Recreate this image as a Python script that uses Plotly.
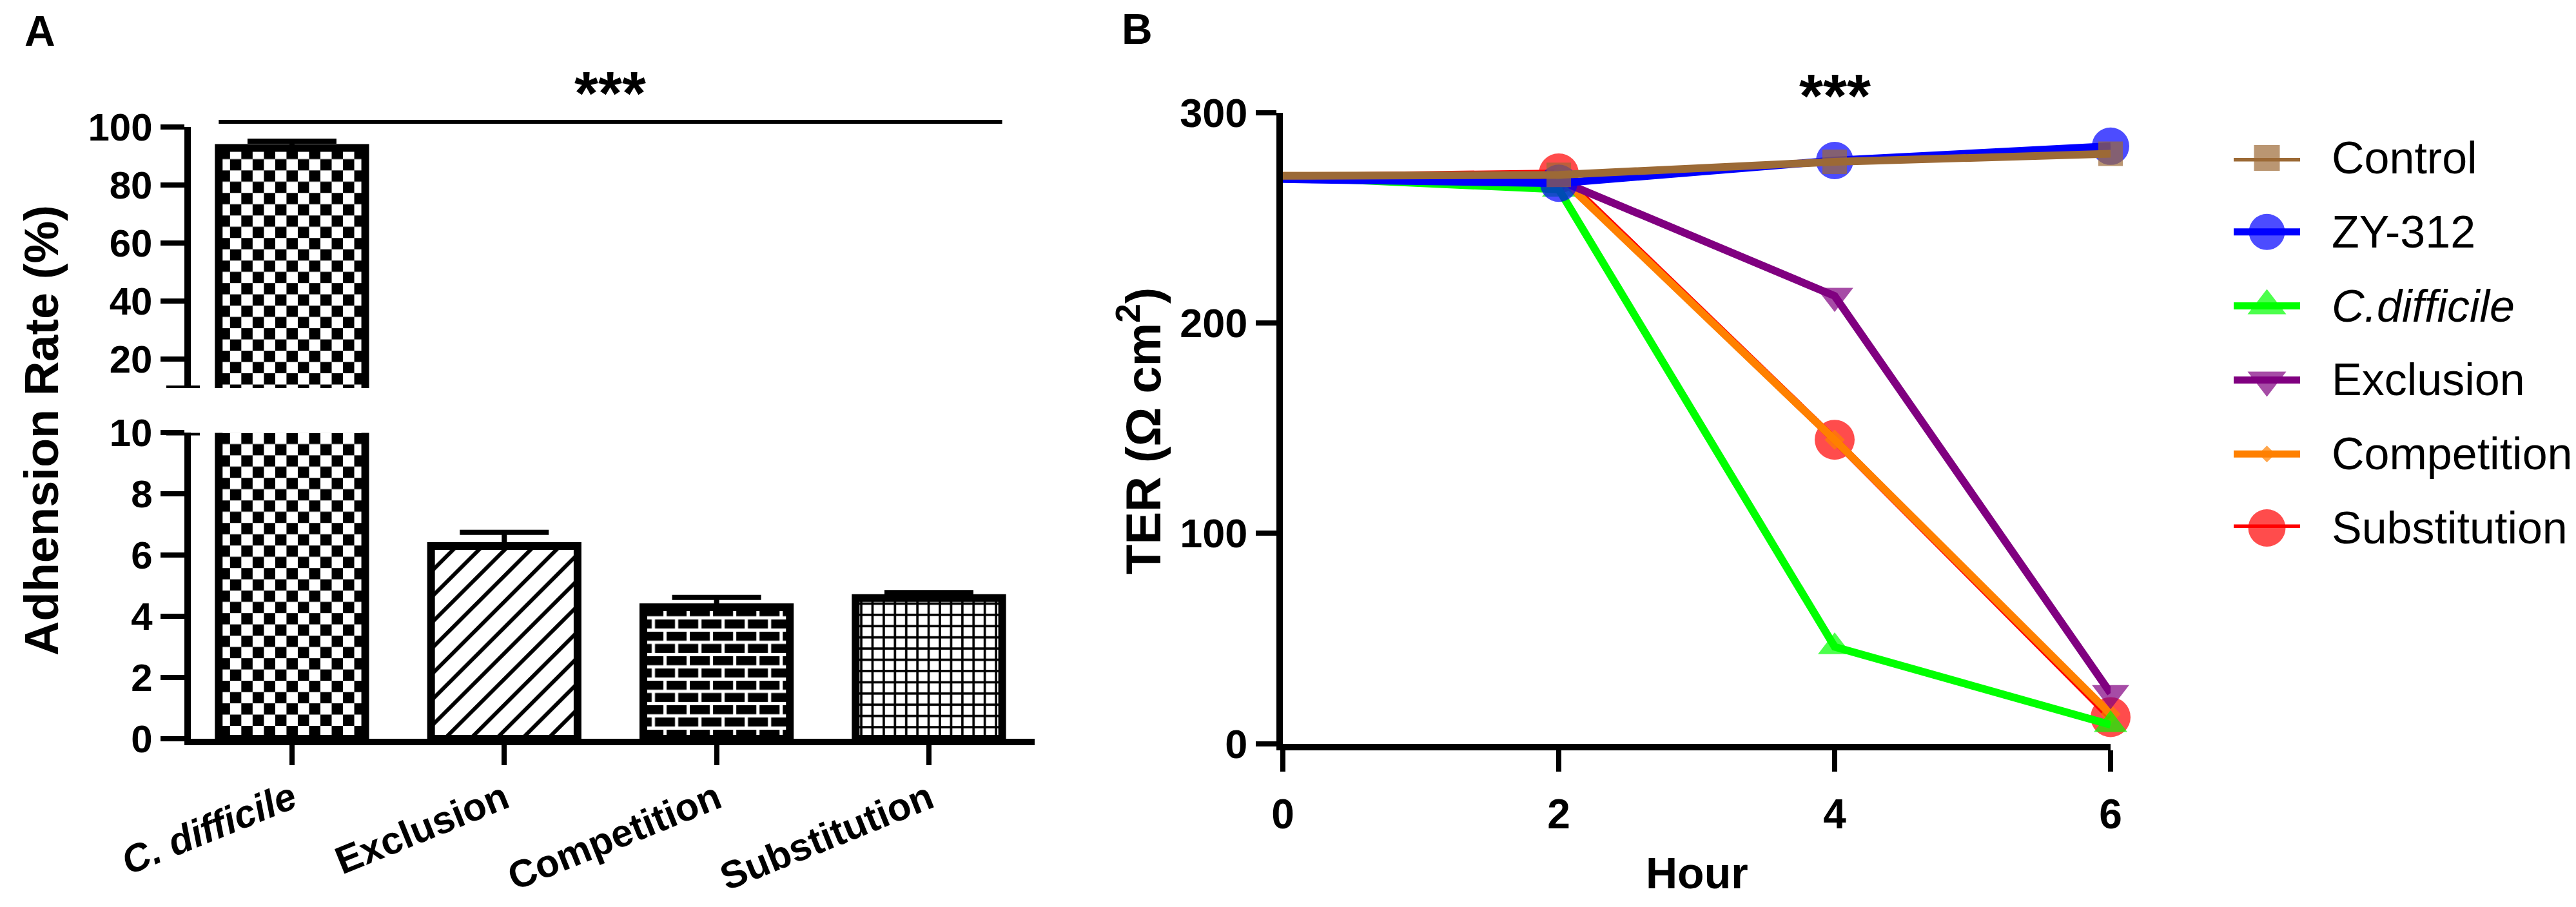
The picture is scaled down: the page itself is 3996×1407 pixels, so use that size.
import base64
import plotly.graph_objects as go

# ---------------- data ----------------
categories = ["C. difficile", "Exclusion", "Competition", "Substitution"]
adhesion_rate = [92.8, 6.3, 4.3, 4.6]
adhesion_err = [2.3, 0.45, 0.32, 0.18]

hours = [0, 2, 4, 6]
ter_control = [270, 270.5, 276.7, 280.5]
ter_zy312 = [268.5, 266.5, 277.3, 284.1]
ter_cdiff = [269.5, 263.6, 46, 9]
ter_exclusion = [269.5, 268, 212.9, 24]
ter_competition = [270, 270, 144.5, 14]
ter_substitution = [269.5, 271.2, 144.5, 12.6]

series_names = ["Control", "ZY-312", "C.difficile", "Exclusion", "Competition", "Substitution"]
series_values = [ter_control, ter_zy312, ter_cdiff, ter_exclusion, ter_competition, ter_substitution]

# ---------------- styling ----------------
W, H = 3996, 1407
FONT = "Liberation Sans, Arial, sans-serif"
colors = ["#9C6A36", "#0000FF", "#00FF00", "#800080", "#FF8000", "#FF0000"]
symbols = ["square", "circle", "triangle-up", "triangle-down", "diamond", "circle"]
msizes = [38, 58, 45, 50, 24, 62]
leg_sizes = [40, 56, 52, 52, 20, 58]
fills = ["checker", "hatch", "brick", "grid"]


def px_x(p):
    return p / W


def px_y(p):
    return 1 - p / H


# panel A geometry
a_xdom = [px_x(287.5), px_x(1597)]
a_xrange = [-0.478, 3.498]
a_low = [px_y(1138), px_y(663.4)]
a_up = [px_y(594), px_y(189)]
low_range = [0, 10]
up_range = [10, 100]
bw = 0.69
idx = list(range(len(categories)))

px_per_cat = (a_xdom[1] - a_xdom[0]) * W / (a_xrange[1] - a_xrange[0])
px_per_low = (a_low[1] - a_low[0]) * H / (low_range[1] - low_range[0])
px_per_up = (a_up[1] - a_up[0]) * H / (up_range[1] - up_range[0])

# panel B geometry
b_xdom = [px_x(1982), px_x(3266)]
b_ydom = [px_y(1145.5), px_y(167)]
leg_xdom = [px_x(3457), px_x(3560)]
leg_ydom = [px_y(811), px_y(237)]


def fill_uri(kind, w, h):
    if kind == "checker":
        c = 17.5
        pw = ph = 2 * c
        body = (f'<rect width="{c}" height="{c}" fill="black"/>'
                f'<rect x="{c}" y="{c}" width="{c}" height="{c}" fill="black"/>')
    elif kind == "brick":
        bwid, bh, m = 36, 19, 5
        pw, ph = bwid, 2 * bh
        body = (f'<rect x="0" y="0" width="{bwid - m}" height="{bh - m}" fill="black"/>'
                f'<rect x="{-bwid / 2}" y="{bh}" width="{bwid - m}" height="{bh - m}" fill="black"/>'
                f'<rect x="{bwid / 2}" y="{bh}" width="{bwid - m}" height="{bh - m}" fill="black"/>')
    elif kind == "hatch":
        p = 40
        pw = ph = p
        body = (f'<path d="M{-p / 4},{p / 4} L{p / 4},{-p / 4} M0,{p} L{p},0 '
                f'M{3 * p / 4},{5 * p / 4} L{5 * p / 4},{3 * p / 4}" '
                f'stroke="black" stroke-width="6" fill="none"/>')
    else:  # grid
        c, lw = 17.4, 3.6
        pw = ph = c
        body = (f'<rect x="{(c - lw) / 2}" y="0" width="{lw}" height="{c}" fill="black"/>'
                f'<rect x="0" y="{(c - lw) / 2}" width="{c}" height="{lw}" fill="black"/>')
    svg = (f'<svg xmlns="http://www.w3.org/2000/svg" width="{w:.0f}" height="{h:.0f}">'
           f'<defs><pattern id="p" width="{pw}" height="{ph}" patternUnits="userSpaceOnUse">'
           f'<rect width="{pw}" height="{ph}" fill="white"/>{body}</pattern></defs>'
           f'<rect width="100%" height="100%" fill="url(#p)"/></svg>')
    return "data:image/svg+xml;base64," + base64.b64encode(svg.encode()).decode()


fig = go.Figure()

# ---------------- panel A: bars on broken axis ----------------
for xa, ya in [("x", "y"), ("x2", "y2")]:
    fig.add_trace(go.Bar(
        x=idx, y=adhesion_rate, width=bw, xaxis=xa, yaxis=ya,
        marker=dict(color="rgba(0,0,0,0)", line=dict(color="black", width=12)),
        error_y=dict(type="data", array=adhesion_err, arrayminus=[0] * len(idx),
                     symmetric=False, color="black", thickness=8, width=69),
        showlegend=False,
    ))

# patterned fills drawn under the bar outlines
images = []
for i, v in enumerate(adhesion_rate):
    top = min(v, low_range[1])
    images.append(dict(source=fill_uri(fills[i], bw * px_per_cat, top * px_per_low),
                       xref="x", yref="y", x=idx[i] - bw / 2, y=top,
                       sizex=bw, sizey=top, xanchor="left", yanchor="top",
                       sizing="stretch", layer="below"))
    if v > up_range[0]:
        images.append(dict(source=fill_uri(fills[i], bw * px_per_cat, (v - up_range[0]) * px_per_up),
                           xref="x2", yref="y2", x=idx[i] - bw / 2, y=v,
                           sizex=bw, sizey=v - up_range[0], xanchor="left", yanchor="top",
                           sizing="stretch", layer="below"))

# ---------------- panel B: TER lines ----------------
for i in reversed(range(len(series_names))):
    # no symbol is shown at hour 0 in the original
    sizes = [0] + [msizes[i]] * (len(hours) - 1)
    fig.add_trace(go.Scatter(
        x=hours, y=series_values[i], xaxis="x3", yaxis="y3", mode="lines+markers",
        line=dict(color=colors[i], width=12),
        marker=dict(color=colors[i], symbol=symbols[i], size=sizes, line=dict(width=0)),
        cliponaxis=False, name=series_names[i], showlegend=False,
    ))

# hand-drawn legend (plotly caps legend glyph sizes)
for i in range(len(series_names)):
    fig.add_trace(go.Scatter(
        x=[0, 0.5, 1], y=[i, i, i], xaxis="x4", yaxis="y4", mode="lines+markers",
        line=dict(color=colors[i], width=11),
        marker=dict(color=colors[i], symbol=symbols[i], size=[0, leg_sizes[i], 0], line=dict(width=0)),
        cliponaxis=False, showlegend=False, hoverinfo="skip",
    ))

annotations = []
for i, name in enumerate(series_names):
    txt = "<i>C.difficile</i>" if name == "C.difficile" else name
    annotations.append(dict(text=txt, xref="paper", yref="y4", x=px_x(3607), y=i,
                            xanchor="left", yanchor="middle", showarrow=False,
                            font=dict(family=FONT, size=70, color="black")))

bold = dict(family=FONT, color="black", weight="bold")
mid = dict(xanchor="center", yanchor="middle", showarrow=False)
annotations += [
    dict(mid, text="A", xref="paper", yref="paper", x=px_x(54), y=px_y(40),
         font=dict(bold, size=66)),
    dict(mid, text="B", xref="paper", yref="paper", x=px_x(1756), y=px_y(37),
         font=dict(bold, size=66)),
    dict(mid, text="Adhension Rate (%)", xref="paper", yref="paper", x=px_x(56), y=px_y(660),
         textangle=-90, font=dict(bold, size=74)),
    dict(mid, text="TER (Ω cm<sup>2</sup>)", xref="paper", yref="paper", x=px_x(1760), y=px_y(661),
         textangle=-90, font=dict(bold, size=76)),
    dict(mid, text="Hour", xref="paper", yref="paper", x=px_x(2624), y=px_y(1346),
         font=dict(bold, size=68)),
    dict(mid, text="***", xref="x", yref="paper", x=(idx[0] + idx[-1]) / 2, y=px_y(136),
         font=dict(bold, size=95)),
    dict(mid, text="***", xref="x3", yref="paper", x=hours[2], y=px_y(140),
         font=dict(bold, size=95)),
]

blk = dict(color="black", width=8)
shapes = [
    dict(type="line", xref="x", yref="paper", x0=idx[0] - bw / 2, x1=idx[-1] + bw / 2,
         y0=px_y(181), y1=px_y(181), line=dict(color="black", width=6)),
    # axis-break caps
    dict(type="line", xref="paper", yref="y2", x0=px_x(250), x1=px_x(302),
         y0=up_range[0], y1=up_range[0], line=blk),
    dict(type="line", xref="paper", yref="y", x0=px_x(250), x1=px_x(302),
         y0=low_range[1], y1=low_range[1], line=blk),
]

axis_common = dict(showgrid=False, zeroline=False, showline=True, linecolor="black",
                   linewidth=10, ticks="outside", tickcolor="black", tickwidth=8,
                   automargin=False)

fig.update_layout(
    template="none",
    width=W, height=H, margin=dict(l=0, r=0, t=0, b=0, pad=0, autoexpand=False),
    paper_bgcolor="white", plot_bgcolor="white", showlegend=False,
    font=dict(family=FONT, color="black"),
    xaxis=dict(axis_common, domain=a_xdom, range=a_xrange, anchor="y",
               tickvals=idx, ticktext=["<i>C. difficile</i>"] + categories[1:],
               tickangle=-22, ticklen=31, ticklabelstandoff=-6, tickfont=dict(bold, size=60)),
    yaxis=dict(axis_common, domain=a_low, range=low_range, anchor="x",
               tickvals=[0, 2, 4, 6, 8, 10], ticklen=37, tickfont=dict(bold, size=60)),
    xaxis2=dict(domain=a_xdom, range=a_xrange, anchor="y2", visible=False, automargin=False),
    yaxis2=dict(axis_common, domain=a_up, range=up_range, anchor="x2",
                tickvals=[20, 40, 60, 80, 100], ticklen=37, tickfont=dict(bold, size=60)),
    xaxis3=dict(axis_common, domain=b_xdom, range=[0, 6], anchor="y3",
                tickvals=hours, ticklen=33, ticklabelstandoff=12, tickfont=dict(bold, size=64)),
    yaxis3=dict(axis_common, domain=b_ydom, range=[0, 300], anchor="x3",
                tickvals=[0, 100, 200, 300], ticklen=32, tickfont=dict(bold, size=63)),
    xaxis4=dict(domain=leg_xdom, range=[0, 1], anchor="y4", visible=False, automargin=False),
    yaxis4=dict(domain=leg_ydom, range=[len(series_names) - 1, 0], anchor="x4",
                visible=False, automargin=False),
    images=images, annotations=annotations, shapes=shapes,
)

fig.write_html("out.html")
